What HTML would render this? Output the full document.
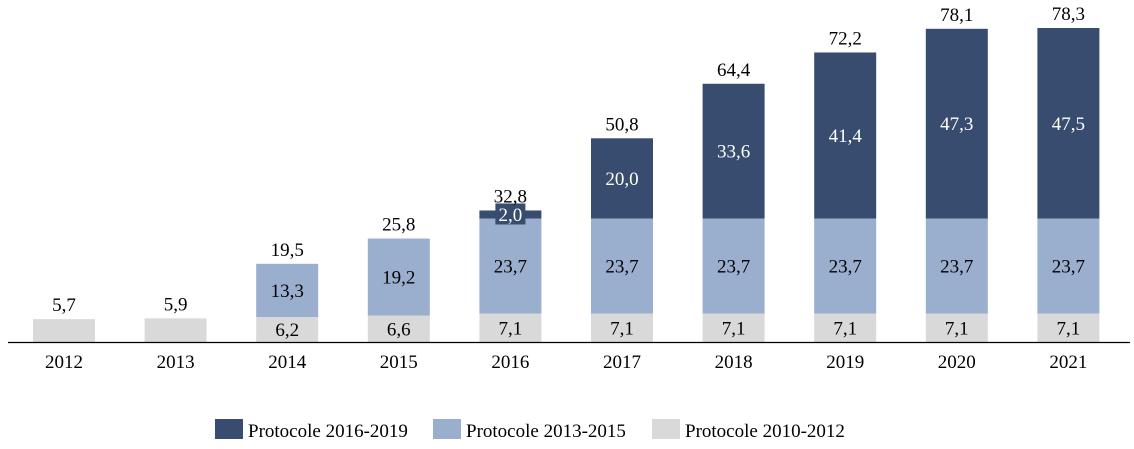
<!DOCTYPE html>
<html><head><meta charset="utf-8"><style>
body{margin:0;background:#fff;}
svg{display:block;font-family:"Liberation Serif",serif;}
</style></head><body>
<svg id="chart" width="1134" height="449"></svg>
<script>
const years=["2012","2013","2014","2015","2016","2017","2018","2019","2020","2021"];
const s1012=[5.7,5.9,6.2,6.6,7.1,7.1,7.1,7.1,7.1,7.1];
const s1315=[0,0,13.3,19.2,23.7,23.7,23.7,23.7,23.7,23.7];
const s1619=[0,0,0,0,2.0,20.0,33.6,41.4,47.3,47.5];
const totals=["5,7","5,9","19,5","25,8","32,8","50,8","64,4","72,2","78,1","78,3"];
const showInner=[false,false,true,true,true,true,true,true,true,true];
const NS="http://www.w3.org/2000/svg";
const svg=document.getElementById('chart');
const base=342, k=4.01, x0=64, step=111.6, bw=62, fs=19;
const xc=i=>x0+i*step;
const y=v=>base-v*k;
const fmt=v=>v.toFixed(1).replace('.',',');
function el(t,a,txt){const e=document.createElementNS(NS,t);for(const n in a)e.setAttribute(n,a[n]);if(txt!==undefined)e.textContent=txt;svg.appendChild(e);return e;}
const series=[{d:s1012,c:"#d9d9d9",tc:"#000",n:"2010-2012"},{d:s1315,c:"#9aafce",tc:"#000",n:"2013-2015"},{d:s1619,c:"#374c6e",tc:"#fff",n:"2016-2019"}];
years.forEach((yr,i)=>{
  let cum=0;
  series.forEach(s=>{
    const v=s.d[i]; if(v<=0) return;
    const r=el('rect',{x:xc(i)-bw/2,y:y(cum+v),width:bw,height:v*k,fill:s.c});
    
    
    if(showInner[i]){
      const cy=y(cum+v/2);
      if(v*k<20){
        const b=el('rect',{x:xc(i)-15,y:cy-11,width:30,height:21,fill:s.c});
        
        
      }
      const t=el('text',{x:xc(i),y:cy+6.5,'text-anchor':'middle','font-size':fs,fill:s.tc},fmt(v));
      
      
    }
    cum+=v;
  });
  const tt=el('text',{x:xc(i),y:y(cum)-8,'text-anchor':'middle','font-size':fs,fill:'#000'},totals[i]);
  
  
  const xl=el('text',{x:xc(i),y:368,'text-anchor':'middle','font-size':fs,fill:'#000'},yr);
  
  
});
const ax=el('line',{x1:8,x2:1130,y1:base+0.5,y2:base+0.5,stroke:'#000','stroke-width':1.3});


const leg=[{c:"#374c6e",t:"Protocole 2016-2019",x:215},{c:"#9aafce",t:"Protocole 2013-2015",x:433},{c:"#d9d9d9",t:"Protocole 2010-2012",x:652}];
leg.forEach(l=>{
  const r=el('rect',{x:l.x,y:419,width:28,height:20,fill:l.c});
  
  
  const t=el('text',{x:l.x+33,y:437,'font-size':fs,fill:'#000'},l.t);
  
  
});
</script>
</body></html>
